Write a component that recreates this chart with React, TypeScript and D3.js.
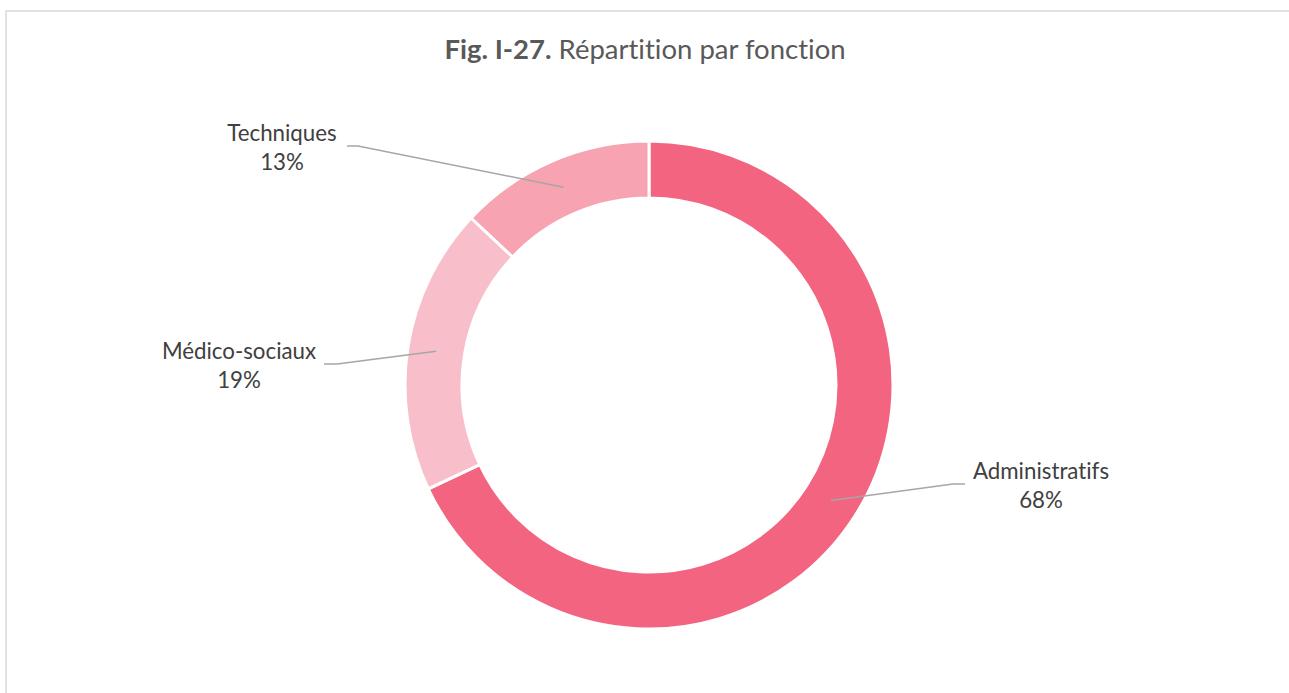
import React from 'react';
import * as d3 from 'd3';

const categories = ['Administratifs', 'Médico-sociaux', 'Techniques'];
const values = [68, 19, 13];
const percentLabels = ['68%', '19%', '13%'];
const colors = ['#F2647F', '#F8BFCB', '#F7A3B2'];

// label layout (text centre x, first baseline y, end of leader line x)
const labelLayout = [
  { x: 1041, y: 479, endX: 965, elbow: -12 },
  { x: 239, y: 359, endX: 324, elbow: 13 },
  { x: 282, y: 141, endX: 347, elbow: 11 },
];

export default function App() {
  const W = 1289;
  const H = 693;
  const cx = 649;
  const cy = 385;
  const rOuter = 244;
  const rInner = 187;
  const font = 'Lato, "Open Sans", sans-serif';
  const noLig = { fontVariantLigatures: 'none' as const, fontFeatureSettings: '"liga" 0, "clig" 0' };

  const pie = d3.pie<number>().sort(null).value((d) => d);
  const arcs = pie(values);
  const arc = d3.arc<d3.PieArcDatum<number>>().innerRadius(rInner).outerRadius(rOuter);
  const mid = (rInner + rOuter) / 2;
  const centroidArc = d3.arc<d3.PieArcDatum<number>>().innerRadius(mid).outerRadius(mid);

  return (
    <svg width={W} height={H} style={{ position: 'absolute', left: 0, top: 0, background: '#fff' }}>
      <rect x={6} y={11} width={W + 20} height={H + 20} fill="#fff" stroke="#D9D9D9" strokeWidth={1.5} />
      <text x={645} y={59} textAnchor="middle" fontFamily={font} fontSize={27.5} fill="#595959" style={noLig}>
        <tspan fontWeight="bold">Fig. I-27.</tspan>
        <tspan> Répartition par fonction</tspan>
      </text>
      <g transform={`translate(${cx},${cy})`}>
        {arcs.map((a, i) => (
          <path key={categories[i]} d={arc(a) || ''} fill={colors[i]} stroke="#fff" strokeWidth={3} />
        ))}
      </g>
      {arcs.map((a, i) => {
        const [px, py] = centroidArc.centroid(a);
        const L = labelLayout[i];
        const ly = L.y + 5;
        const ex = L.endX;
        const bx = ex + L.elbow;
        return (
          <polyline
            key={'l' + i}
            points={`${cx + px},${cy + py} ${bx},${ly} ${ex},${ly}`}
            fill="none"
            stroke="#A6A6A6"
            strokeWidth={1.5}
          />
        );
      })}
      {arcs.map((a, i) => {
        const L = labelLayout[i];
        return (
          <text key={'t' + i} textAnchor="middle" fontFamily={font} fontSize={22.3} fill="#404040" style={noLig}>
            <tspan x={L.x} y={L.y}>{categories[i]}</tspan>
            <tspan x={L.x} y={L.y + 29}>{percentLabels[i]}</tspan>
          </text>
        );
      })}
    </svg>
  );
}
